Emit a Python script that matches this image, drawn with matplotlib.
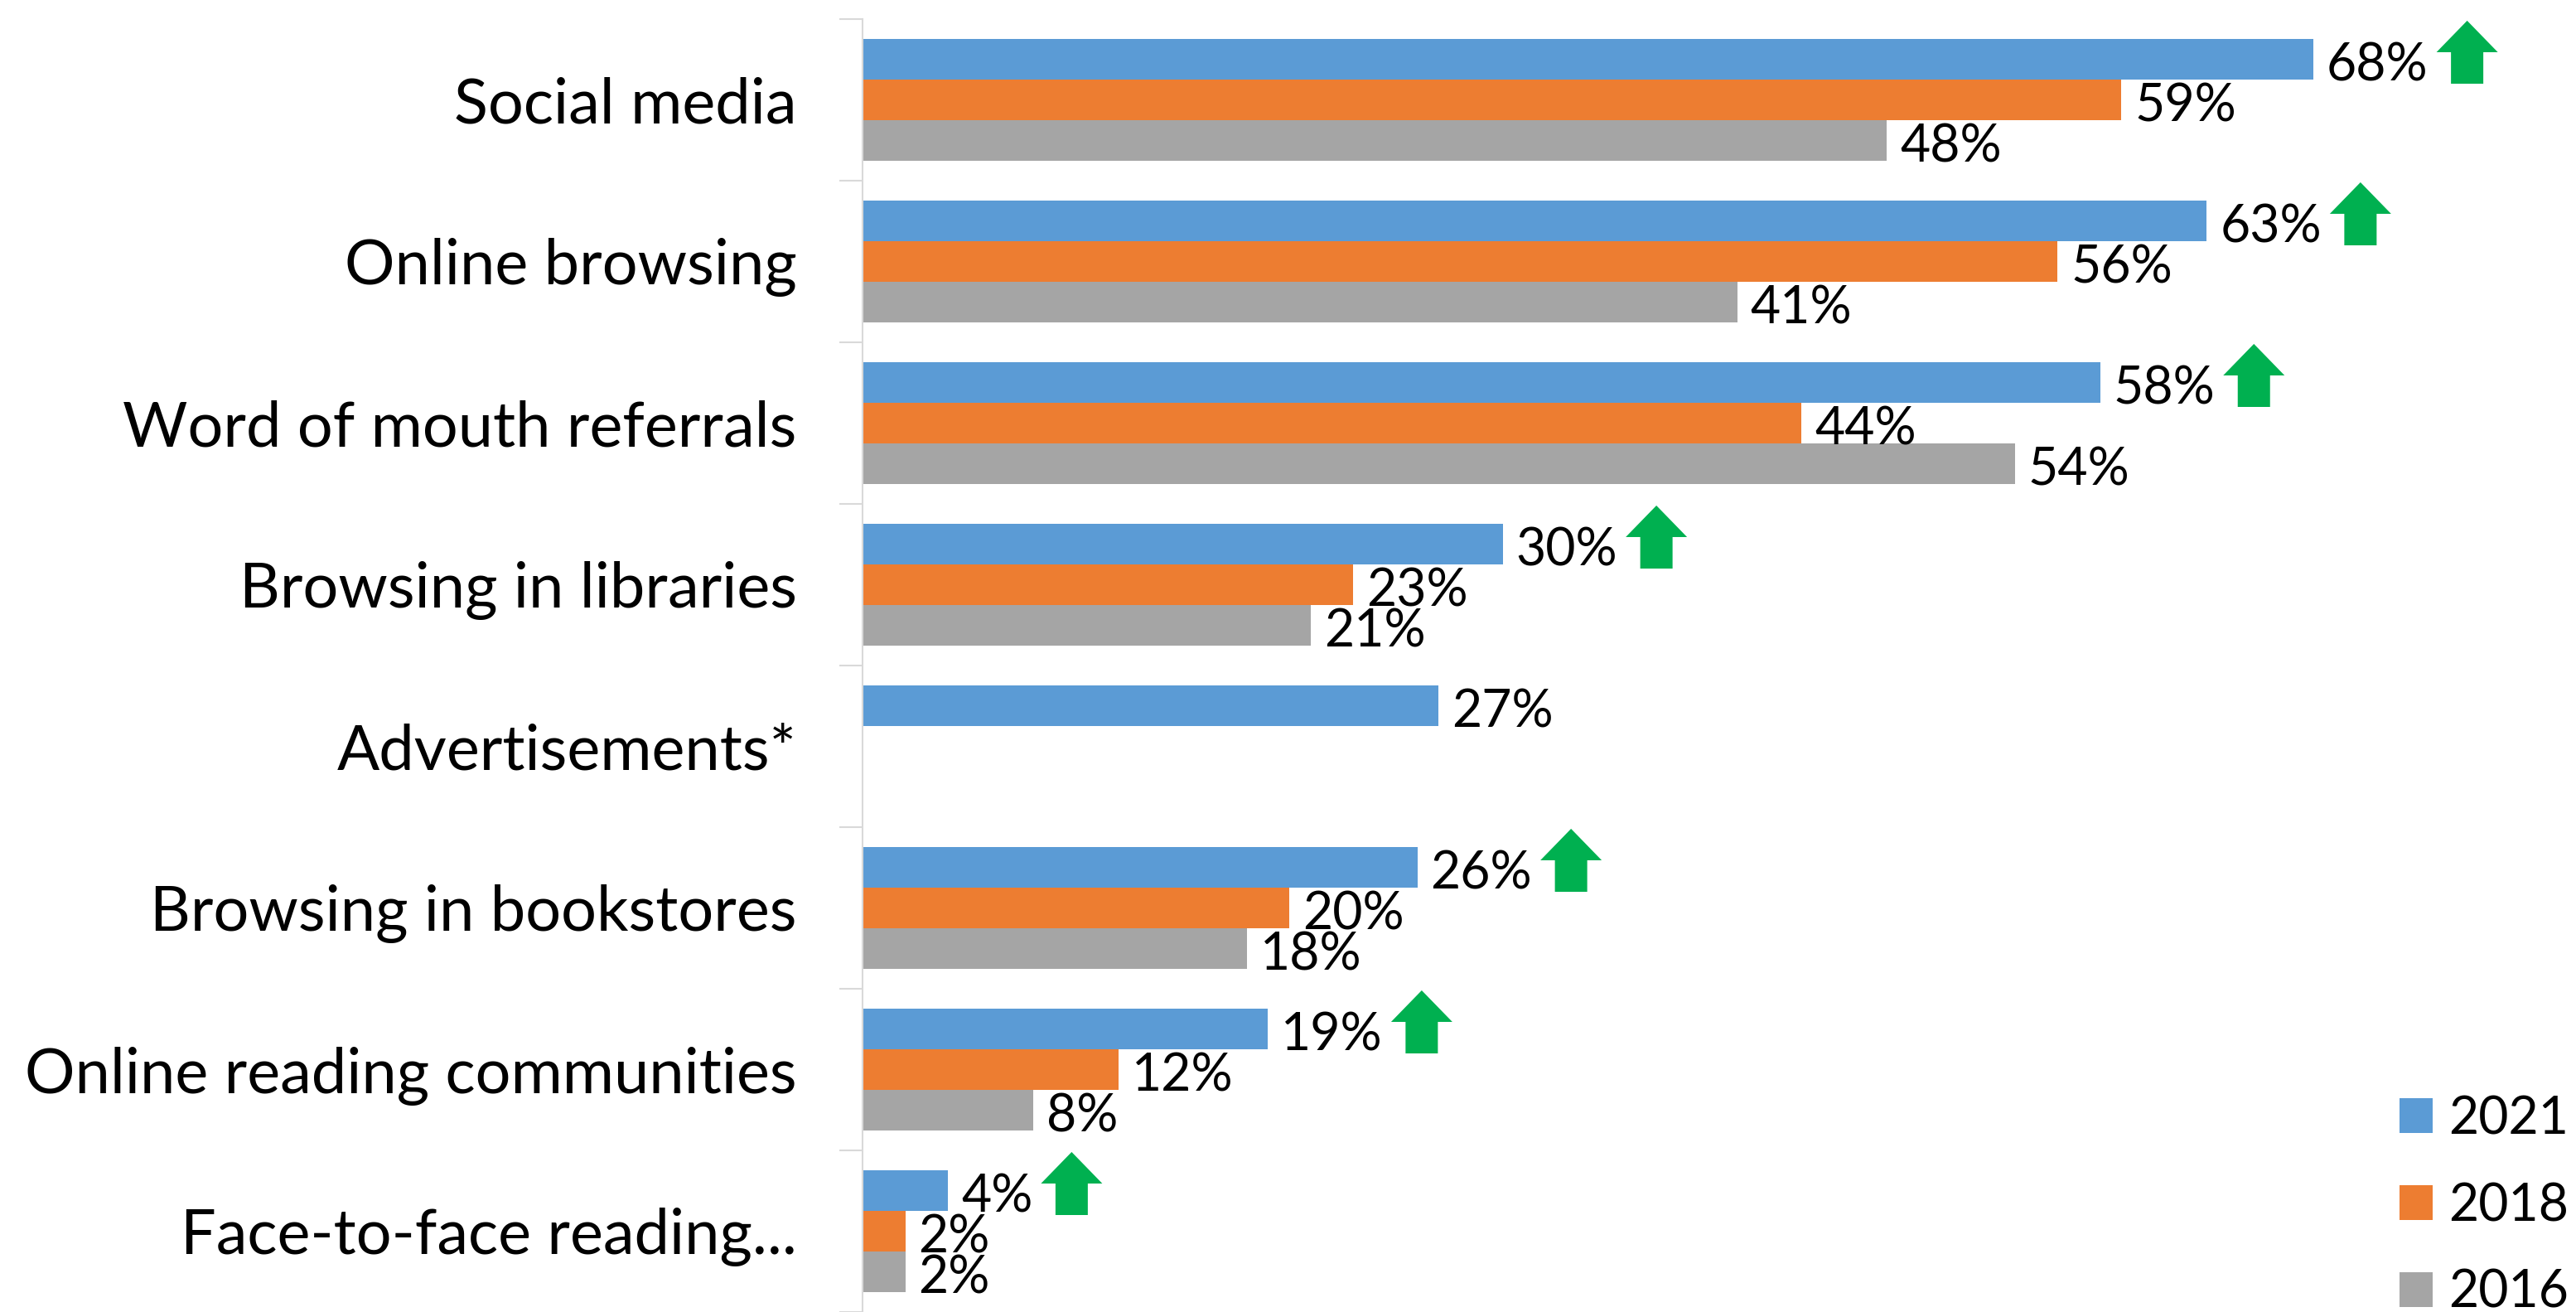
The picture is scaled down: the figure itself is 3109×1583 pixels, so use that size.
import numpy as np
import matplotlib.pyplot as plt
from matplotlib.patches import FancyArrow

plt.rcParams['font.family'] = ['Lato', 'DejaVu Sans']

# survey results, % of respondents
categories = ["Social media", "Online browsing", "Word of mouth referrals",
              "Browsing in libraries", "Advertisements*", "Browsing in bookstores",
              "Online reading communities", "Face-to-face reading..."]
years = ["2021", "2018", "2016"]
vals_2021 = [68, 63, 58, 30, 27, 26, 19, 4]
vals_2018 = [59, 56, 44, 23, np.nan, 20, 12, 2]
vals_2016 = [48, 41, 54, 21, np.nan, 18, 8, 2]
rising = [True, True, True, True, False, True, True, True]

colors = ["#5B9BD5", "#ED7D31", "#A5A5A5"]
green = "#00B050"

W, H = 3109, 1583
fig = plt.figure(figsize=(W / 100, H / 100), dpi=100)
ax = fig.add_axes([1041 / W, 0, 1 - 1041 / W, 1 - 23 / H])

y = np.arange(len(categories))
bh = 0.25
gap = 16 / 25.75  # label gap in data units
labels_2021 = []
for i, (vals, col, yr) in enumerate(zip([vals_2021, vals_2018, vals_2016], colors, years)):
    vals = np.array(vals, dtype=float)
    ok = ~np.isnan(vals)
    pos = y[ok] + (i - 1) * bh
    ax.barh(pos, vals[ok], height=bh, color=col, label=yr)
    for p, v in zip(pos, vals[ok]):
        t = ax.text(v + gap, p + 0.04, f"{v:.0f}%", va='center', ha='left', fontsize=45)
        if i == 0:
            labels_2021.append(t)

ax.set_xlim(0, (W - 1041) / 25.75)
ax.set_ylim(len(categories) - 0.5, -0.5)

ax.set_yticks(y)
ax.set_yticklabels(categories, fontsize=54.5)
ax.set_yticks(np.arange(-0.5, len(categories), 1), minor=True)
ax.tick_params(axis='y', which='major', length=0, pad=57)
ax.tick_params(axis='y', which='minor', length=20, width=1.5, color='#D9D9D9')
ax.xaxis.set_visible(False)
for s in ['top', 'right', 'bottom']:
    ax.spines[s].set_visible(False)
ax.spines['left'].set_color('#D9D9D9')
ax.spines['left'].set_linewidth(1.5)

ax.legend(loc='lower right', bbox_to_anchor=(3100 / W, -6 / H), bbox_transform=fig.transFigure,
          frameon=False, fontsize=45, handlelength=0.65, handleheight=0.65,
          handletextpad=0.3, labelspacing=0.75, borderaxespad=0, borderpad=0)

# green "up" arrows right of the 2021 labels
fig.canvas.draw()
inv = ax.transData.inverted()
for yi, t, up in zip(y, labels_2021, rising):
    if not up:
        continue
    bb = t.get_window_extent()
    xl = inv.transform((bb.x1 + 10, 0))[0]
    head_w = 74 / 25.75
    ax.add_patch(FancyArrow(xl + head_w / 2, yi - 0.10, 0, -0.39, width=39 / 25.75,
                            head_width=head_w, head_length=0.195,
                            length_includes_head=True, color=green, lw=0))

fig.savefig("out.png", dpi=100)
